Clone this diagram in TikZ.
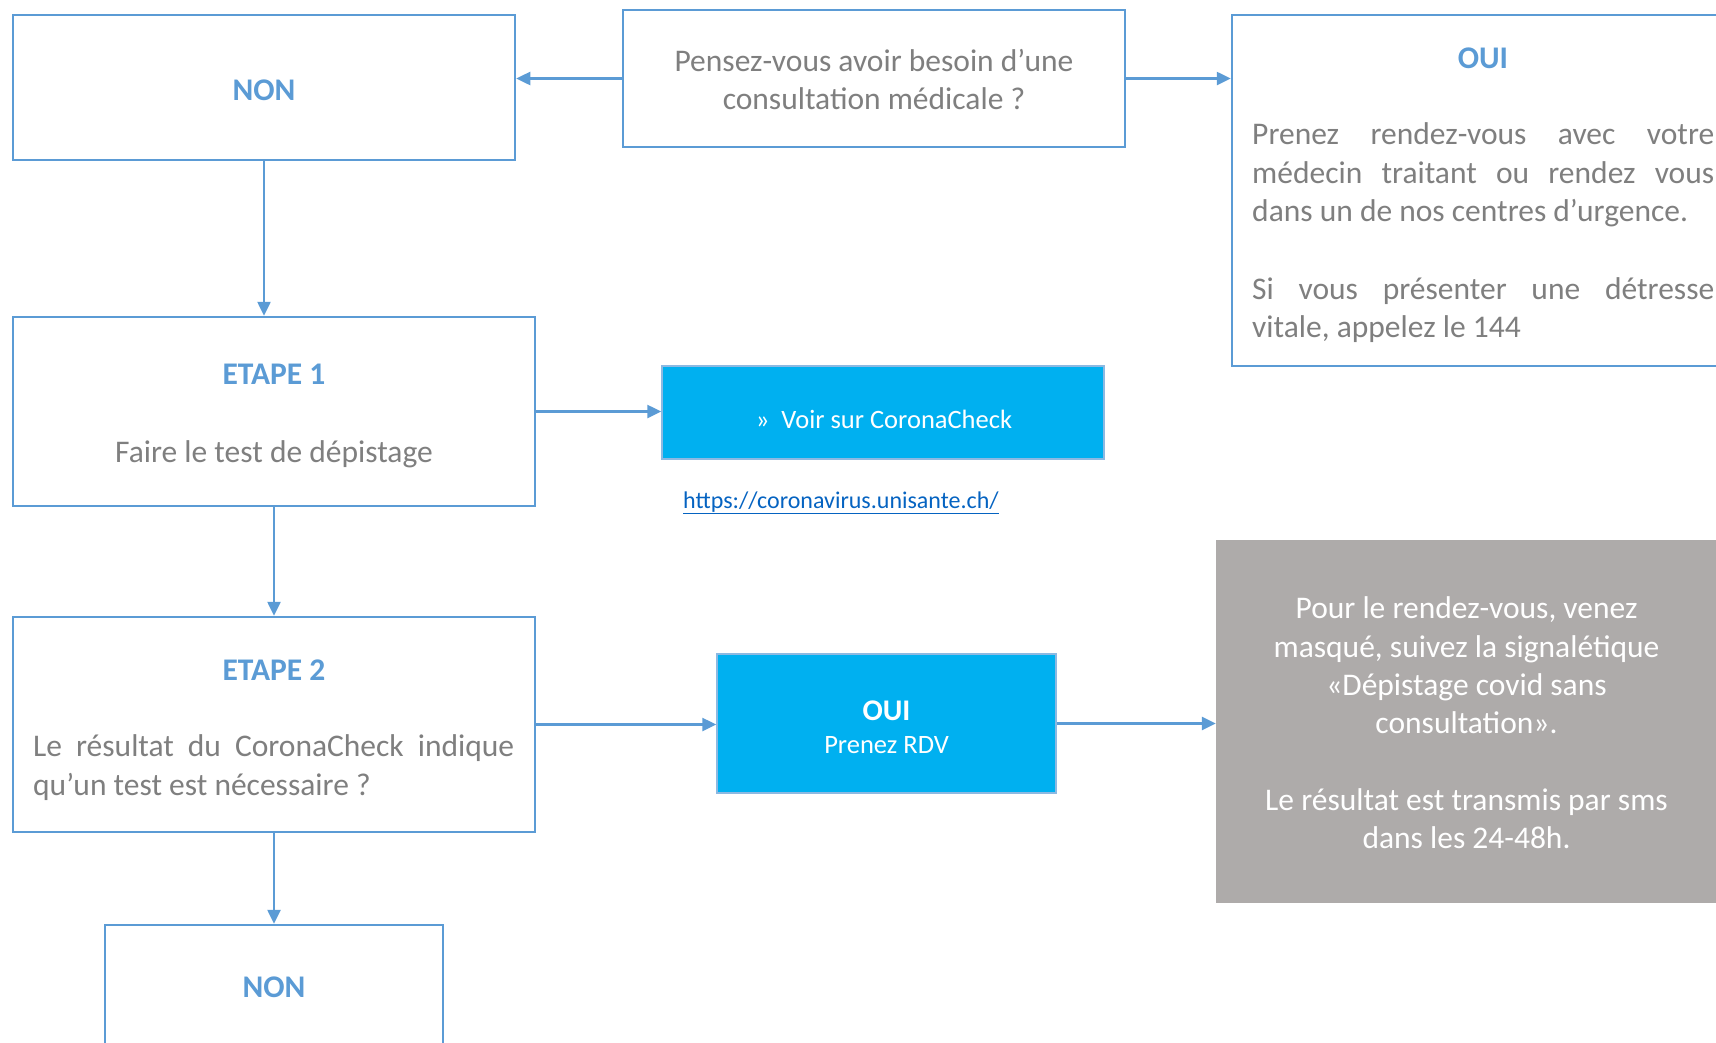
\documentclass[tikz,border=0pt]{standalone}
\usepackage{fontspec}
\setmainfont{Carlito}
\usetikzlibrary{arrows.meta}
\definecolor{bblue}{HTML}{5B9BD5}
\definecolor{tgray}{HTML}{7F7F7F}
\definecolor{cyanbox}{HTML}{00B0F0}
\definecolor{graybox}{HTML}{AEABAA}
\definecolor{linkblue}{HTML}{0563C1}
\tikzset{
  box/.style={draw=bblue, line width=2.5pt, fill=white, inner sep=0pt},
  cbox/.style={draw=bblue!70, line width=1.5pt, fill=cyanbox, inner sep=0pt},
  gbox/.style={fill=graybox, draw=none, inner sep=0pt},
  txt/.style={inner sep=0pt, text=tgray, font=\fontsize{31.5}{38.5}\selectfont},
  ttl/.style={inner sep=0pt, text=bblue, font=\fontsize{31.5}{38.5}\selectfont\bfseries},
  wtxt/.style={inner sep=0pt, text=white, font=\fontsize{31.5}{38.5}\selectfont},
  stxt/.style={inner sep=0pt, text=white, font=\fontsize{26.5}{32}\selectfont},
  conn/.style={draw=bblue, line width=2.5pt, -{Triangle[length=14pt,width=13pt]}}
}
\begin{document}
\begin{tikzpicture}[x=1pt,y=-1pt]
\useasboundingbox (0,0) rectangle (1716,1042);
\clip (0,0) rectangle (1716,1042);
% boxes
\node[box, minimum width=502pt, minimum height=145pt] (non1) at (264,87.5) {};
\node[box, minimum width=502pt, minimum height=137pt] (q) at (874,78.5) {};
\node[box, minimum width=508pt, minimum height=351pt] (oui1) at (1486,190.5) {};
\node[box, minimum width=522pt, minimum height=189pt] (e1) at (274,411.5) {};
\node[cbox, minimum width=442pt, minimum height=93pt] (voir) at (883,412.5) {};
\node[box, minimum width=522pt, minimum height=215pt] (e2) at (274,724.5) {};
\node[cbox, minimum width=339pt, minimum height=139pt] (oui2) at (886.5,723.5) {};
\node[gbox, minimum width=502pt, minimum height=363pt] (gray) at (1467,721.5) {};
\node[box, minimum width=338pt, minimum height=145pt] (non2) at (274,997.5) {};
% texts
\node[ttl, anchor=base] (non1t) at (264,100.5) {NON};
\node[txt, anchor=base] (q1) at (874,71) {Pensez-vous avoir besoin d’une};
\node[txt, anchor=base] (q2) at (874,109.5) {consultation médicale ?};
\node[ttl, anchor=base] (oui1t) at (1483,68.5) {OUI};
\node[txt, anchor=base west] (o1) at (1252,144.5) {\makebox[462pt][s]{Prenez rendez-vous avec votre}};
\node[txt, anchor=base west] (o2) at (1252,183) {\makebox[462pt][s]{médecin traitant ou rendez vous}};
\node[txt, anchor=base west] (o3) at (1252,221) {dans un de nos centres d’urgence.};
\node[txt, anchor=base west] (o4) at (1252,299) {\makebox[462pt][s]{Si vous présenter une détresse}};
\node[txt, anchor=base west] (o5) at (1252,337) {vitale, appelez le 144};
\node[ttl, anchor=base] (e1t) at (274,384.5) {ETAPE 1};
\node[txt, anchor=base] (e1x) at (274,462) {Faire le test de dépistage};
\node[stxt, anchor=base] (voirt) at (884,428.5) {»\hspace{12pt}Voir sur CoronaCheck};
\node[inner sep=0pt, text=linkblue, font=\fontsize{24}{29}\selectfont, anchor=base] (url) at (841,508) {\underline{https://coronavirus.unisante.ch/}};
\node[ttl, anchor=base] (e2t) at (274,680.5) {ETAPE 2};
\node[txt, anchor=base west] (e2a) at (33,756) {\makebox[481pt][s]{Le résultat du CoronaCheck indique}};
\node[txt, anchor=base west] (e2b) at (33,795) {qu’un test est nécessaire ?};
\node[inner sep=0pt, text=white, font=\fontsize{30}{36}\selectfont\bfseries, anchor=base] (oui2t) at (886.5,720.5) {OUI};
\node[stxt, anchor=base] (oui2x) at (886.5,753.5) {Prenez RDV};
\node[wtxt, anchor=base] (g1) at (1466.5,618.5) {Pour le rendez-vous, venez};
\node[wtxt, anchor=base] (g2) at (1466.5,657) {masqué, suivez la signalétique};
\node[wtxt, anchor=base] (g3) at (1466.5,695) {«Dépistage covid sans};
\node[wtxt, anchor=base] (g4) at (1466.5,733) {consultation».};
\node[wtxt, anchor=base] (g5) at (1466.5,810) {Le résultat est transmis par sms};
\node[wtxt, anchor=base] (g6) at (1466.5,848) {dans les 24-48h.};
\node[ttl, anchor=base] (non2t) at (274,997.5) {NON};
% connectors
\draw[conn] (q.west) -- (q.west -| non1.east);
\draw[conn] (q.east) -- (q.east -| oui1.west);
\draw[conn] (non1.south) -- (non1.south |- e1.north);
\draw[conn] (e1.east) -- (e1.east -| voir.west);
\draw[conn] (e1.south) -- (e2.north);
\draw[conn] (e2.east) -- (e2.east -| oui2.west);
\draw[conn] (oui2.east) -- (oui2.east -| gray.west);
\draw[conn] (e2.south) -- (non2.north);
\end{tikzpicture}
\end{document}
